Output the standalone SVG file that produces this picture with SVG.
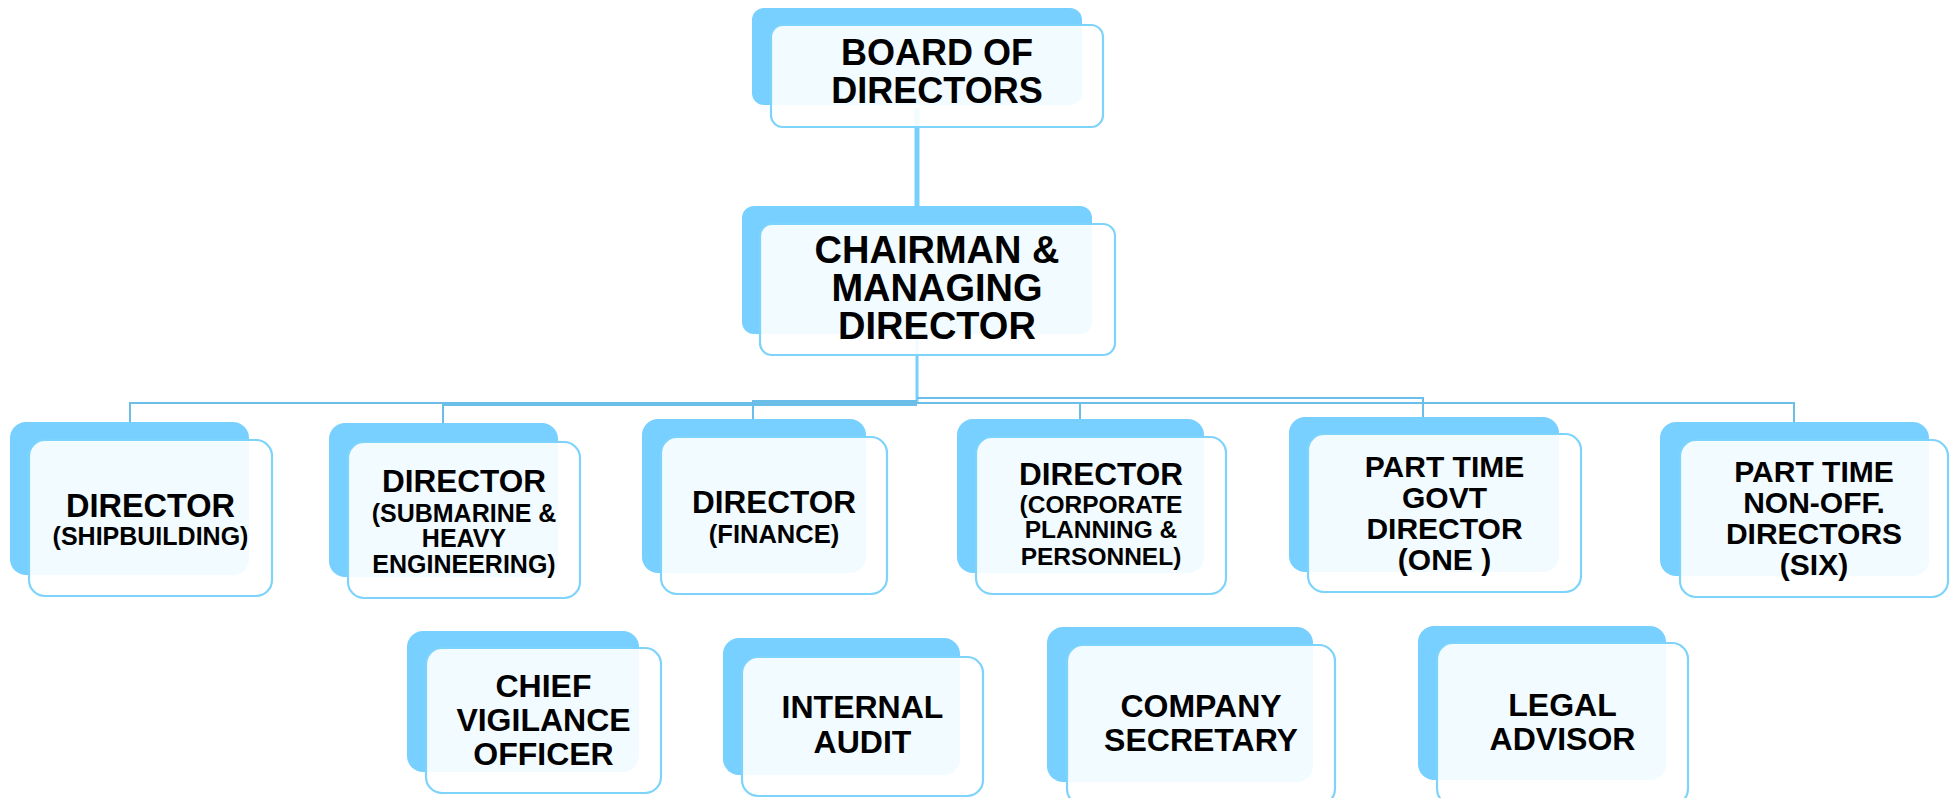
<svg xmlns="http://www.w3.org/2000/svg" width="1950" height="798" viewBox="0 0 1950 798">
<style>
.bg{fill:#ffffff}
.back{fill:#77D0FF}
.front{fill:#ffffff;fill-opacity:0.9;stroke:#7DD3FA;stroke-width:2.2}
.t{font-family:"Liberation Sans",Arial,sans-serif;font-weight:bold;fill:#000;text-anchor:middle}
.bus{fill:none;stroke:#6BBEE8;stroke-width:2}
.trunk{fill:none;stroke:#77CFFF}
</style>
<rect class="bg" x="0" y="0" width="1950" height="798"/>
<g id="connectors">
<path class="trunk" stroke-width="5" d="M917,108 V206"/>
<path class="trunk" stroke-width="3" d="M917,340 V403"/>
<path class="bus" d="M917,403 H130 V422"/>
<path class="bus" d="M917,405 H443 V423"/>
<path class="bus" d="M917,401 H753 V419"/>
<path class="bus" d="M917,403 H1080 V419"/>
<path class="bus" d="M917,398 H1423 V417"/>
<path class="bus" d="M917,403 H1794 V422"/>
</g>
<g id="board">
<rect class="back" x="752" y="8" width="330" height="97" rx="12"/>
<rect class="front" x="771" y="25" width="332" height="102" rx="12"/>
<text class="t" font-size="36" x="937" y="65">BOARD OF</text>
<text class="t" font-size="36" x="937" y="103">DIRECTORS</text>
</g>
<g id="cmd">
<rect class="back" x="742" y="206" width="350" height="128" rx="12"/>
<rect class="front" x="760" y="224" width="355" height="131" rx="12"/>
<text class="t" font-size="38" x="937" y="263">CHAIRMAN &amp;</text>
<text class="t" font-size="38" x="937" y="301">MANAGING</text>
<text class="t" font-size="38" x="937" y="339">DIRECTOR</text>
</g>
<g id="dir-shipbuilding">
<rect class="back" x="10" y="422" width="239" height="153" rx="16"/>
<rect class="front" x="29" y="440" width="243" height="156" rx="16"/>
<text class="t" font-size="32.5" x="150.5" y="517">DIRECTOR</text>
<text class="t" font-size="25" x="150.5" y="545">(SHIPBUILDING)</text>
</g>
<g id="dir-submarine">
<rect class="back" x="329" y="423" width="229" height="154" rx="16"/>
<rect class="front" x="348" y="442" width="232" height="156" rx="16"/>
<text class="t" font-size="31.5" x="464" y="492">DIRECTOR</text>
<text class="t" font-size="25" x="464" y="522">(SUBMARINE &amp;</text>
<text class="t" font-size="25" x="464" y="547">HEAVY</text>
<text class="t" font-size="25" x="464" y="573">ENGINEERING)</text>
</g>
<g id="dir-finance">
<rect class="back" x="642" y="419" width="224" height="154" rx="16"/>
<rect class="front" x="661" y="437" width="226" height="157" rx="16"/>
<text class="t" font-size="31.5" x="774" y="513">DIRECTOR</text>
<text class="t" font-size="25.5" x="774" y="543">(FINANCE)</text>
</g>
<g id="dir-corporate">
<rect class="back" x="957" y="419" width="247" height="154" rx="16"/>
<rect class="front" x="976" y="437" width="250" height="157" rx="16"/>
<text class="t" font-size="31.5" x="1101" y="485">DIRECTOR</text>
<text class="t" font-size="24.5" x="1101" y="513">(CORPORATE</text>
<text class="t" font-size="24.5" x="1101" y="538">PLANNING &amp;</text>
<text class="t" font-size="24.5" x="1101" y="565">PERSONNEL)</text>
</g>
<g id="govt-director">
<rect class="back" x="1289" y="417" width="270" height="155" rx="16"/>
<rect class="front" x="1308" y="434" width="273" height="158" rx="16"/>
<text class="t" font-size="30" x="1444.5" y="477">PART TIME</text>
<text class="t" font-size="30" x="1444.5" y="508">GOVT</text>
<text class="t" font-size="30" x="1444.5" y="539">DIRECTOR</text>
<text class="t" font-size="30" x="1444.5" y="570">(ONE )</text>
</g>
<g id="non-off-directors">
<rect class="back" x="1660" y="422" width="269" height="154" rx="16"/>
<rect class="front" x="1680" y="440" width="268" height="157" rx="16"/>
<text class="t" font-size="30" x="1814" y="482">PART TIME</text>
<text class="t" font-size="30" x="1814" y="513">NON-OFF.</text>
<text class="t" font-size="30" x="1814" y="544">DIRECTORS</text>
<text class="t" font-size="30" x="1814" y="575">(SIX)</text>
</g>
<g id="cvo">
<rect class="back" x="407" y="631" width="232" height="141" rx="16"/>
<rect class="front" x="426" y="648" width="235" height="145" rx="16"/>
<text class="t" font-size="32" x="543.5" y="697">CHIEF</text>
<text class="t" font-size="32" x="543.5" y="731">VIGILANCE</text>
<text class="t" font-size="32" x="543.5" y="765">OFFICER</text>
</g>
<g id="internal-audit">
<rect class="back" x="723" y="638" width="237" height="137" rx="16"/>
<rect class="front" x="742" y="657" width="241" height="139" rx="16"/>
<text class="t" font-size="32" x="862.5" y="718">INTERNAL</text>
<text class="t" font-size="32" x="862.5" y="753">AUDIT</text>
</g>
<g id="company-secretary">
<rect class="back" x="1047" y="627" width="266" height="155" rx="16"/>
<rect class="front" x="1067" y="645" width="268" height="160" rx="16"/>
<text class="t" font-size="32" x="1201" y="717">COMPANY</text>
<text class="t" font-size="32" x="1201" y="751">SECRETARY</text>
</g>
<g id="legal-advisor">
<rect class="back" x="1418" y="626" width="248" height="154" rx="16"/>
<rect class="front" x="1437" y="643" width="251" height="162" rx="16"/>
<text class="t" font-size="32" x="1562.5" y="716">LEGAL</text>
<text class="t" font-size="32" x="1562.5" y="750">ADVISOR</text>
</g>
</svg>
